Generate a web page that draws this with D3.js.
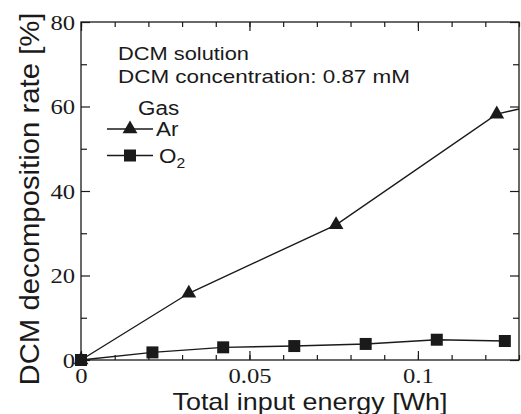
<!DOCTYPE html>
<html>
<head>
<meta charset="utf-8">
<script src="https://cdn.jsdelivr.net/npm/d3@7"></script>
<style>
  html, body { margin: 0; padding: 0; background: #fff; }
  svg { display: block; }
</style>
</head>
<body>
<div id="chart"></div>
<script>
// values
const arEnergy = [0, 0.032, 0.0757, 0.1234, 0.13];   // last point is where the line leaves the frame
const arRate = [0, 15.8, 32.0, 58.2, 59.4];
const o2Energy = [0, 0.0212, 0.0422, 0.0633, 0.0845, 0.1056, 0.1258];
const o2Rate = [0, 1.8, 3.0, 3.3, 3.8, 4.8, 4.5];

const xMajorTicks = [0, 0.05, 0.1];
const xMinorTicks = d3.range(0, 0.131, 0.01);
const yMajorTicks = [0, 20, 40, 60, 80];
const yMinorTicks = [10, 30, 50, 70];
const xLabels = ["0", "0.05", "0.1"];

const W = 521, H = 414;
const margin = { top: 22, right: 2, bottom: 54, left: 81 };
const width = W - margin.left - margin.right;
const height = H - margin.top - margin.bottom;

const ink = "#1a1a1a";
const serif = '"Liberation Serif", "Times New Roman", serif';
const sans = '"Liberation Sans", Arial, sans-serif';

const svg = d3.select("#chart").append("svg")
  .attr("width", W)
  .attr("height", H);

const g = svg.append("g")
  .attr("transform", `translate(${margin.left},${margin.top})`);

const x = d3.scaleLinear().domain([0, 0.13]).range([0, width]);
const y = d3.scaleLinear().domain([0, 80]).range([height, 0]);

// stretch text horizontally a bit, the source figure is wide
function stretch(sel, k) {
  sel.each(function () {
    const len = this.getComputedTextLength();
    d3.select(this).attr("textLength", len * k).attr("lengthAdjust", "spacingAndGlyphs");
  });
}

function styleAxis(a) {
  a.attr("font-family", null);
  a.select(".domain").remove();
  a.selectAll("line").attr("stroke", ink).attr("stroke-width", 1.2);
  a.selectAll("text")
    .style("font-family", serif)
    .attr("font-size", 22)
    .attr("fill", ink);
}

// ticks, all pointing inwards
const xb1 = g.append("g").attr("transform", `translate(0,${height})`)
  .call(d3.axisBottom(x).tickValues(xMinorTicks).tickSize(-5).tickFormat(""));
const xb2 = g.append("g").attr("transform", `translate(0,${height})`)
  .call(d3.axisBottom(x).tickValues(xMajorTicks).tickSize(-9).tickPadding(7)
    .tickFormat((d, i) => xLabels[i]));
const xt1 = g.append("g")
  .call(d3.axisTop(x).tickValues(xMinorTicks).tickSize(-5).tickFormat(""));
const xt2 = g.append("g")
  .call(d3.axisTop(x).tickValues(xMajorTicks).tickSize(-9).tickFormat(""));

const yl1 = g.append("g")
  .call(d3.axisLeft(y).tickValues(yMinorTicks).tickSize(-6).tickFormat(""));
const yl2 = g.append("g")
  .call(d3.axisLeft(y).tickValues(yMajorTicks).tickSize(-9).tickPadding(6)
    .tickFormat(d3.format("d")));
const yr1 = g.append("g").attr("transform", `translate(${width},0)`)
  .call(d3.axisRight(y).tickValues(yMinorTicks).tickSize(-6).tickFormat(""));
const yr2 = g.append("g").attr("transform", `translate(${width},0)`)
  .call(d3.axisRight(y).tickValues(yMajorTicks).tickSize(-9).tickFormat(""));

[xb1, xb2, xt1, xt2, yl1, yl2, yr1, yr2].forEach(styleAxis);
stretch(xb2.selectAll("text"), 1.12);
stretch(yl2.selectAll("text"), 1.12);

// frame
g.append("rect")
  .attr("width", width)
  .attr("height", height)
  .attr("fill", "none")
  .attr("stroke", ink)
  .attr("stroke-width", 1.3);

// axis titles
svg.append("text")
  .attr("x", 310)
  .attr("y", 410)
  .attr("text-anchor", "middle")
  .style("font-family", sans)
  .attr("font-size", 24)
  .attr("fill", ink)
  .attr("textLength", 275)
  .attr("lengthAdjust", "spacingAndGlyphs")
  .text("Total input energy [Wh]");

svg.append("text")
  .attr("transform", "translate(39,199) rotate(-90)")
  .attr("text-anchor", "middle")
  .style("font-family", sans)
  .attr("font-size", 28)
  .attr("fill", ink)
  .attr("textLength", 373)
  .attr("lengthAdjust", "spacingAndGlyphs")
  .text("DCM decomposition rate [%]");

// data
const arData = arEnergy.map((e, i) => ({ e, r: arRate[i] }));
const o2Data = o2Energy.map((e, i) => ({ e, r: o2Rate[i] }));

const line = d3.line().x(d => x(d.e)).y(d => y(d.r));

g.append("path")
  .datum(arData)
  .attr("d", line)
  .attr("fill", "none")
  .attr("stroke", ink)
  .attr("stroke-width", 1.4);

g.append("path")
  .datum(o2Data)
  .attr("d", line)
  .attr("fill", "none")
  .attr("stroke", ink)
  .attr("stroke-width", 1.4);

const tri = d3.symbol().type(d3.symbolTriangle).size(95);
const sq = d3.symbol().type(d3.symbolSquare).size(144);

g.selectAll("path.ar")
  .data(arData.filter(d => d.e < x.domain()[1]))
  .join("path")
  .attr("class", "ar")
  .attr("transform", d => `translate(${x(d.e)},${y(d.r)})`)
  .attr("d", tri)
  .attr("fill", ink);

g.selectAll("path.o2")
  .data(o2Data)
  .join("path")
  .attr("class", "o2")
  .attr("transform", d => `translate(${x(d.e)},${y(d.r)})`)
  .attr("d", sq)
  .attr("fill", ink);

// annotation
const note = svg.append("g")
  .style("font-family", sans)
  .attr("font-size", 19)
  .attr("fill", ink);

note.append("text").attr("x", 118).attr("y", 60)
  .attr("textLength", 131).attr("lengthAdjust", "spacingAndGlyphs")
  .text("DCM solution");
note.append("text").attr("x", 118).attr("y", 83)
  .attr("textLength", 292).attr("lengthAdjust", "spacingAndGlyphs")
  .text("DCM concentration: 0.87 mM");

// legend
const legend = svg.append("g")
  .style("font-family", sans)
  .attr("font-size", 20)
  .attr("fill", ink);

legend.append("text").attr("x", 138).attr("y", 115).text("Gas");

const legendRows = [
  { label: "Ar", sym: tri, y: 129 },
  { label: "O", sub: "2", sym: sq, y: 155.5 }
];

legendRows.forEach(r => {
  legend.append("line")
    .attr("x1", 107).attr("x2", 153)
    .attr("y1", r.y).attr("y2", r.y)
    .attr("stroke", ink)
    .attr("stroke-width", 1.4);
  legend.append("path")
    .attr("transform", `translate(130,${r.y})`)
    .attr("d", r.sym)
    .attr("fill", ink);
  const t = legend.append("text")
    .attr("x", r.sub ? 159 : 156)
    .attr("y", r.y + 7)
    .text(r.label);
  if (r.sub) {
    t.append("tspan")
      .attr("font-size", 14)
      .attr("dy", 5)
      .text(r.sub);
  }
});
stretch(legend.selectAll("text"), 1.12);
</script>
</body>
</html>
